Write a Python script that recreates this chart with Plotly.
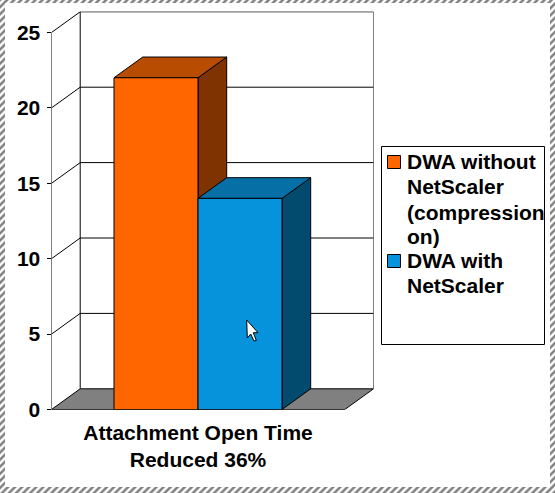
import plotly.graph_objects as go

categories = ["Attachment Open Time<br>Reduced 36%"]
series_names = ["DWA without NetScaler (compression on)", "DWA with NetScaler"]
series_values = [22, 14]
y_ticks = [0, 5, 10, 15, 20, 25]
legend_lines = [["DWA without", "NetScaler", "(compression", "on)"], ["DWA with", "NetScaler"]]

W, H = 555, 493
FRONT, TOP, SIDE = ["#FF6600", "#0693DC"], ["#B84C00", "#066FA5"], ["#7F3300", "#034A6F"]
FONT = "Liberation Sans"
bold = dict(family=FONT, size=21, color="black", weight="bold")
X_L, X_R, Y_B, Y_T = 51.5, 373.5, 409.5, 11.5
PX_X, PX_Y = 84.0, 15.08
X0 = 156.0
DX, DY = 28.7 / PX_X, 20.7 / PX_Y
xmin, xmax = (X_L - X0) / PX_X, (X_R - X0) / PX_X
ymax = (Y_B - Y_T) / PX_Y
front_right = xmax - DX
y_top = y_ticks[-1]
line = dict(color="black", width=1)

fig = go.Figure()
for i, v in enumerate(series_values):
    fig.add_bar(x=[i], y=[v], width=1, name=series_names[i], showlegend=False,
                marker=dict(color=FRONT[i], line=line))

shapes = []
def seg(x0, y0, x1, y1):
    shapes.append(dict(type="line", xref="x", yref="y", x0=x0, y0=y0, x1=x1, y1=y1, line=line, layer="below"))

def poly(pts, fill):
    path = "M" + " L".join(f"{a},{b}" for a, b in pts) + " Z"
    shapes.append(dict(type="path", xref="x", yref="y", layer="below", fillcolor=fill, line=line, path=path))

for t in y_ticks[1:]:
    seg(xmin, t, xmin + DX, t + DY)
    seg(xmin + DX, t + DY, xmax, t + DY)
seg(xmin, 0, xmin, y_top)
seg(xmin + DX, DY, xmin + DX, y_top + DY)
seg(xmax, DY, xmax, y_top + DY)
poly([(xmin, 0), (xmin + DX, DY), (xmax, DY), (front_right, 0)], "#808080")
seg(xmin, 0, front_right, 0)
seg(front_right, 0, front_right, -0.25)

for i, v in enumerate(series_values):
    l, r = i - .5, i + .5
    poly([(r, 0), (r + DX, DY), (r + DX, v + DY), (r, v)], SIDE[i])
    poly([(l, v), (l + DX, v + DY), (r + DX, v + DY), (r, v)], TOP[i])

# overlay pixel layer: screenshot frame, legend box, mouse pointer
for (x, y, w, b) in [(W / 2, 3, W, 0), (W / 2, H, W, H - 6), (2.5, H, 5, 0), (W - 2.5, H, 5, 0)]:
    fig.add_bar(x=[x], y=[y - b], width=w, base=b, xaxis="x2", yaxis="y2", showlegend=False, hoverinfo="skip",
                marker=dict(color="white", line=dict(width=0),
                            pattern=dict(shape="/", size=5, solidity=0.5, fgcolor="black", bgcolor="white")))
cx = [246.7, 258, 253.3, 256.3, 254, 250.7, 247.3, 246.7]
cy = [320, 332.7, 332.7, 340.5, 341, 334, 338, 320]
fig.add_scatter(x=cx, y=cy, xaxis="x2", yaxis="y2", fill="toself", fillcolor="white", mode="lines",
                line=line, showlegend=False, hoverinfo="skip")

def box(x0, y0, x1, y1, fill):
    shapes.append(dict(type="rect", xref="x2", yref="y2", x0=x0, y0=y0, x1=x1, y1=y1,
                       fillcolor=fill, line=line, layer="above"))

box(381.5, 146.5, 544.5, 344.5, "white")
box(387.5, 155.5, 400.5, 168.5, FRONT[0])
box(387.5, 254.5, 400.5, 267.5, FRONT[1])

ann = []
line_y = [161, 186, 212, 236.5, 260, 285.7]
k = 0
for group in legend_lines:
    for txt in group:
        ann.append(dict(text=txt, xref="x2", yref="y2", x=406, y=line_y[k], xanchor="left", yanchor="middle",
                        showarrow=False, font=bold, borderpad=0))
        k += 1

fig.update_layout(
    width=W, height=H, margin=dict(l=0, r=0, t=0, b=0), paper_bgcolor="white", plot_bgcolor="rgba(0,0,0,0)",
    barmode="overlay", showlegend=False, annotations=ann, font=bold, shapes=shapes,
    xaxis=dict(domain=[X_L / W, X_R / W], range=[xmin, xmax], tickvals=[0.5], ticktext=categories,
               automargin=False, showgrid=False, zeroline=False, showline=False, ticks="", ticklabelstandoff=8,
               tickfont=bold, tickangle=0),
    yaxis=dict(domain=[1 - Y_B / H, 1 - Y_T / H], range=[0, ymax], tickvals=y_ticks, showgrid=False,
               automargin=False, zeroline=False, showline=False, ticks="outside", ticklen=4, tickcolor="black",
               tickwidth=1, ticklabelstandoff=2, tickfont=bold),
    xaxis2=dict(domain=[0, 1], range=[0, W], visible=False, anchor="y2", automargin=False),
    yaxis2=dict(domain=[0, 1], range=[H, 0], visible=False, anchor="x2", automargin=False),
)
fig.write_html("out.html", config=dict(displayModeBar=False),
               post_script="document.body.style.margin='0';document.body.style.overflow='hidden';")
